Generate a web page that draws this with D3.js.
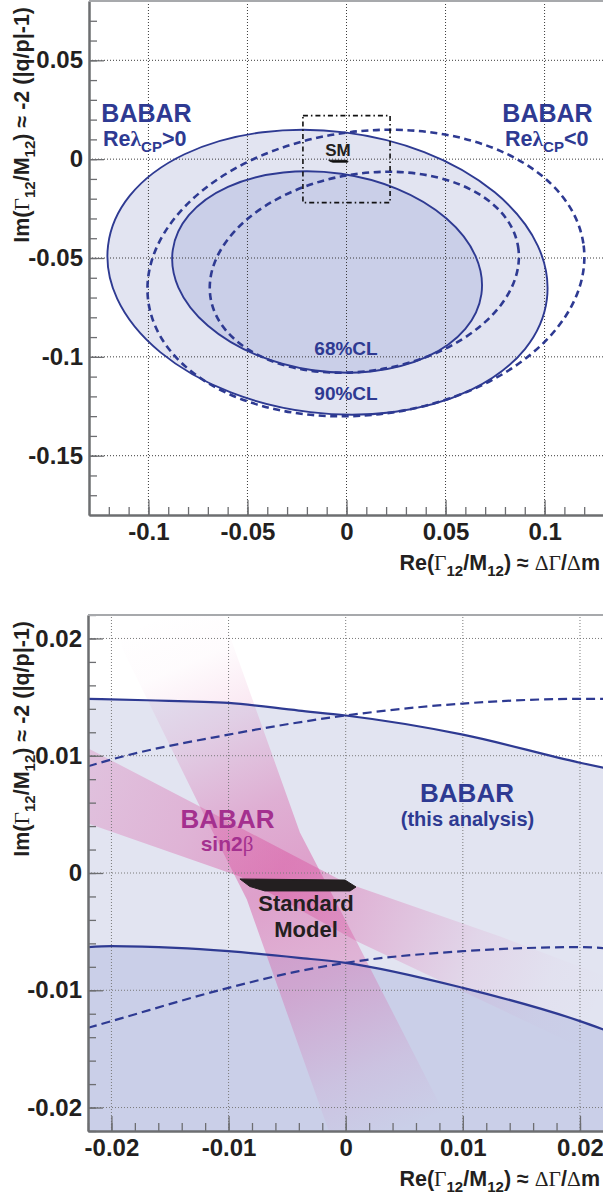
<!DOCTYPE html>
<html><head><meta charset="utf-8">
<script src="https://cdn.jsdelivr.net/npm/d3@7"></script>
<style>body{margin:0;background:#fff}svg{display:block}</style>
</head><body><svg id="c" width="603" height="1199"></svg>
<script>
// ---------------- DATA ----------------
// Top panel: confidence contours in (Re, Im) of Gamma12/M12, read off as ellipses
const contourNames = ["90%CL Re\u03bbCP>0","68%CL Re\u03bbCP>0","90%CL Re\u03bbCP<0","68%CL Re\u03bbCP<0"];
const contourCx    = [-0.0096, -0.0098, 0.0098, 0.0090];
const contourCy    = [-0.0572, -0.0571, -0.0576, -0.0572];
const contourA     = [0.1116, 0.0787, 0.1108, 0.0787];   // semi-major (along Re)
const contourB     = [0.0713, 0.0502, 0.0717, 0.0498];   // semi-minor
const contourTilt  = [-7.0, -8.2, 7.2, 9.6];              // degrees, counter-clockwise
const contourDashed= [false, false, true, true];
const smBox = [[-0.022,-0.022],[0.022,0.022]];
const smRegion = [[-0.00903,-0.00051],[-0.00006,-0.0006],[0.00088,-0.00119],[0.00037,-0.00153],[-0.0069,-0.00153],[-0.00818,-0.00115]];

// Bottom panel (zoom of the SM box): contour edges crossing the window
const zoomOuterSolid = [[-0.022,0.01485],[-0.017,0.01473],[-0.010,0.01450],[-0.004,0.01385],[0,0.01343],[0.010,0.0118],[0.020,0.0094],[0.022,0.00897]];
const zoomInnerSolid = [[-0.022,-0.00632],[-0.020,-0.00624],[-0.0145,-0.00638],[-0.010,-0.00667],[-0.004,-0.00723],[0,-0.00766],[0.010,-0.00979],[0.020,-0.01263],[0.022,-0.01334]];
const zoomOuterDashed = [[-0.022,0.0091],[-0.020,0.00968],[-0.010,0.0118],[0,0.01343],[0.010,0.01445],[0.020,0.01485],[0.022,0.01485]];
const zoomInnerDashed = [[-0.022,-0.0132],[-0.020,-0.01263],[-0.010,-0.00979],[-0.004,-0.00837],[0,-0.00766],[0.010,-0.00667],[0.020,-0.00632],[0.022,-0.0064]];
// sin2beta bands (two wedges)
const sin2bSteep = [[-0.0200,0.0223],[-0.01057,0.0223],[-0.00963,0.01948],[-0.00391,0.00345],[0.00088,-0.00575],[0.00934,-0.0223],[-0.00134,-0.0223],[-0.00391,-0.01505],[-0.00844,-0.00226],[-0.01245,0.00567],[-0.01900,0.01900]];
const sin2bShallow = [[-0.02228,0.01078],[-0.01245,0.00567],[0.0000,-0.00084],[0.01319,-0.00541],[0.02224,-0.00882],[0.02224,-0.01590],[0.00094,-0.00581],[-0.00903,-0.0003],[-0.02228,0.00431]];

// Ticks
const topXMajor = [-0.1,-0.05,0,0.05,0.1], topXLabels = ["-0.1","-0.05","0","0.05","0.1"];
const topYMajor = [0.05,0,-0.05,-0.1,-0.15], topYLabels = ["0.05","0","-0.05","-0.1","-0.15"];
const botMajor = [-0.02,-0.01,0,0.01,0.02], botXLabels = ["-0.02","-0.01","0","0.01","0.02"];
const botYLabels = ["-0.02","-0.01","0","0.01","0.02"];

// ---------------- STYLE ----------------
const blue="#2e3a92", light="#e2e4f1", dark="#cacfe8", pink="#d9509e", magenta="#a4308f", ink="#231f20";
const SANS="'Liberation Sans', Arial, Helvetica, sans-serif", SERIF="'Liberation Serif','DejaVu Serif',serif";

const svg = d3.select("#c");
const defs = svg.append("defs");

const xT = d3.scaleLinear([-0.13,0.13],[89,604]);
const yT = d3.scaleLinear([-0.18,0.08],[515,1]);
const xB = d3.scaleLinear([-0.022,0.022],[88,603.4]);
const yB = d3.scaleLinear([-0.022,0.022],[1131,615]);

function clip(id, xs, ys){
  defs.append("clipPath").attr("id",id).append("rect")
    .attr("x",xs.range()[0]).attr("y",ys.range()[1])
    .attr("width",xs.range()[1]-xs.range()[0]).attr("height",ys.range()[0]-ys.range()[1]);
}
clip("clipT",xT,yT); clip("clipB",xB,yB);

function rich(sel, parts, size){
  let cur=0;
  parts.forEach(p=>{
    const target = p.sub ? size*0.3 : 0;
    const ts = sel.append("tspan").text(p.t);
    if (target-cur) ts.attr("dy", target-cur);
    cur = target;
    if (p.sub) ts.attr("font-size", size*0.7);
    if (p.sym) ts.attr("font-family", SERIF).attr("font-weight", p.bold ? "bold" : "normal");
  });
}

function grid(g, xs, ys, xv, yv, color){
  g.selectAll(null).data(xv).join("line").attr("x1",d=>xs(d)).attr("x2",d=>xs(d))
    .attr("y1",ys.range()[0]).attr("y2",ys.range()[1]);
  g.selectAll(null).data(yv).join("line").attr("y1",d=>ys(d)).attr("y2",d=>ys(d))
    .attr("x1",xs.range()[0]).attr("x2",xs.range()[1]);
  g.selectAll("line").attr("stroke",color).attr("stroke-width",1).attr("stroke-dasharray","1,2");
}

function axes(xs, ys, xMaj, xLab, yMaj, yLab, minorX, minorY){
  const y0 = ys.range()[0], x0 = xs.range()[0];
  const style = g => { g.select(".domain").attr("stroke","#6d6e71").attr("stroke-width",2);
    g.selectAll(".tick line").attr("stroke","#6d6e71").attr("stroke-width",1.3);
    g.selectAll("text").attr("font-family",SANS).attr("font-weight","bold").attr("font-size",24).attr("fill",ink); };
  svg.append("g").attr("transform",`translate(0,${y0})`)
    .call(d3.axisBottom(xs).tickValues(minorX).tickSizeInner(-8).tickSizeOuter(0).tickFormat("")).call(style);
  svg.append("g").attr("transform",`translate(0,${y0})`)
    .call(d3.axisBottom(xs).tickValues(xMaj).tickSizeInner(-15).tickSizeOuter(0).tickPadding(8)
      .tickFormat((d,i)=>xLab[i])).call(style);
  svg.append("g").attr("transform",`translate(${x0},0)`)
    .call(d3.axisLeft(ys).tickValues(minorY).tickSizeInner(-8).tickSizeOuter(0).tickFormat("")).call(style);
  svg.append("g").attr("transform",`translate(${x0},0)`)
    .call(d3.axisLeft(ys).tickValues(yMaj).tickSizeInner(-15).tickSizeOuter(0).tickPadding(6)
      .tickFormat((d,i)=>yLab[i])).call(style);
  svg.append("line").attr("x1",x0).attr("x2",xs.range()[1]).attr("y1",ys.range()[1]).attr("y2",ys.range()[1])
    .attr("stroke","#a7a9ac").attr("stroke-width",2.2);
}

function titles(xs, ys){
  const xt = svg.append("text").attr("x",600).attr("y",ys.range()[0]+55).attr("text-anchor","end")
    .attr("font-family",SANS).attr("font-weight","bold").attr("font-size",21.5).attr("fill",ink);
  rich(xt,[{t:"Re("},{t:"Γ",sym:1},{t:"12",sub:1},{t:"/M"},{t:"12",sub:1},{t:") ≈ "},{t:"ΔΓ",sym:1},{t:"/"},{t:"Δ",sym:1},{t:"m"}],21.5);
  const yt = svg.append("text").attr("transform",`translate(29,${ys.range()[1]+6}) rotate(-90)`).attr("text-anchor","end")
    .attr("font-family",SANS).attr("font-weight","bold").attr("font-size",21.5).attr("fill",ink);
  rich(yt,[{t:"Im("},{t:"Γ",sym:1},{t:"12",sub:1},{t:"/M"},{t:"12",sub:1},{t:") ≈ -2 (|q/p|-1)"}],21.5);
}

function label(x,y,txt,size,color,anchor="middle"){
  return svg.append("text").attr("x",x).attr("y",y).attr("text-anchor",anchor)
    .attr("font-family",SANS).attr("font-weight","bold").attr("font-size",size).attr("fill",color).text(txt);
}

// ---------------- TOP PANEL ----------------
const gT = svg.append("g").attr("clip-path","url(#clipT)");
const idx = d3.range(contourNames.length);
function ellipse(g, i){
  const cx = xT(contourCx[i]), cy = yT(contourCy[i]);
  return g.append("ellipse").attr("cx",cx).attr("cy",cy)
    .attr("rx",xT(contourA[i])-xT(0)).attr("ry",yT(0)-yT(contourB[i]))
    .attr("transform",`rotate(${-contourTilt[i]},${cx},${cy})`);
}
ellipse(gT,0).attr("fill",light);
ellipse(gT,1).attr("fill",dark);
grid(gT.append("g"), xT, yT, topXMajor, topYMajor, "#3a3a3a");
idx.filter(i=>contourDashed[i]).forEach(i=>ellipse(gT,i).attr("fill","none")
  .attr("stroke",blue).attr("stroke-width",2.6).attr("stroke-dasharray","7,4.5"));
idx.filter(i=>!contourDashed[i]).forEach(i=>ellipse(gT,i).attr("fill","none")
  .attr("stroke",blue).attr("stroke-width",1.9));
gT.append("rect").attr("x",xT(smBox[0][0])).attr("y",yT(smBox[1][1]))
  .attr("width",xT(smBox[1][0])-xT(smBox[0][0])).attr("height",yT(smBox[0][1])-yT(smBox[1][1]))
  .attr("fill","none").attr("stroke","#111").attr("stroke-width",1.6).attr("stroke-dasharray","5,3,1.5,3");
gT.append("path").attr("d",d3.line().x(d=>xT(d[0])).y(d=>yT(d[1])).curve(d3.curveLinearClosed)(smRegion))
  .attr("fill","#111").attr("stroke","#111").attr("stroke-width",0.9);

label(338,156,"SM",17,ink);
label(146.5,122,"BABAR",25,blue);
label(547.5,122,"BABAR",25,blue);
rich(label(103,146,"",21.5,blue,"start"),[{t:"Re"},{t:"λ",sym:1,bold:1},{t:"CP",sub:1},{t:">0"}],21.5);
rich(label(505,146,"",21.5,blue,"start"),[{t:"Re"},{t:"λ",sym:1,bold:1},{t:"CP",sub:1},{t:"<0"}],21.5);
label(346,355,"68%CL",19,blue);
label(346,400,"90%CL",19,blue);

axes(xT, yT, topXMajor, topXLabels, topYMajor, topYLabels, d3.range(-12,13).map(d=>d/100), d3.range(-17,8).map(d=>d/100));
titles(xT, yT);

// ---------------- BOTTOM PANEL ----------------
const gB = svg.append("g").attr("clip-path","url(#clipB)");
const lineB = d3.line().x(d=>xB(d[0])).y(d=>yB(d[1])).curve(d3.curveMonotoneX);
const yBot = yB.domain()[0]-0.001;
function belowArea(c){ return d3.area().x(d=>xB(d[0])).y0(yB(yBot)).y1(d=>yB(d[1])).curve(d3.curveMonotoneX)(c); }
gB.append("path").attr("d",belowArea(zoomOuterSolid)).attr("fill",light);
gB.append("path").attr("d",belowArea(zoomInnerSolid)).attr("fill",dark);

function bandGrad(id, p0, p1, stops){
  const lg = defs.append("linearGradient").attr("id",id).attr("gradientUnits","userSpaceOnUse")
    .attr("x1",xB(p0[0])).attr("y1",yB(p0[1])).attr("x2",xB(p1[0])).attr("y2",yB(p1[1]));
  stops.forEach(s=>lg.append("stop").attr("offset",s[0]).attr("stop-color",pink).attr("stop-opacity",s[1]));
}
bandGrad("gA",[-0.0155,0.0223],[0.0040,-0.0223],[[0,0],[0.1,0.02],[0.22,0.14],[0.38,0.36],[0.52,0.46],[0.7,0.32],[0.88,0.1],[1,0]]);
bandGrad("gB",[-0.022,0.0076],[0.022,-0.0105],[[0,0.24],[0.2,0.33],[0.38,0.46],[0.55,0.3],[0.75,0.1],[0.9,0.02],[1,0]]);
const polyB = d3.line().x(d=>xB(d[0])).y(d=>yB(d[1])).curve(d3.curveLinearClosed);
gB.append("path").attr("d",polyB(sin2bSteep)).attr("fill","url(#gA)");
gB.append("path").attr("d",polyB(sin2bShallow)).attr("fill","url(#gB)");

grid(gB.append("g"), xB, yB, botMajor, botMajor, "#7a7a7a");
[zoomOuterDashed, zoomInnerDashed].forEach(c=>gB.append("path").attr("d",lineB(c)).attr("fill","none")
  .attr("stroke",blue).attr("stroke-width",2.2).attr("stroke-dasharray","9,5"));
[zoomOuterSolid, zoomInnerSolid].forEach(c=>gB.append("path").attr("d",lineB(c)).attr("fill","none")
  .attr("stroke",blue).attr("stroke-width",2.2));
gB.append("path").attr("d",d3.line().x(d=>xB(d[0])).y(d=>yB(d[1])).curve(d3.curveLinearClosed)(smRegion))
  .attr("fill",ink).attr("stroke",ink).attr("stroke-width",1).attr("stroke-linejoin","round");

label(227.5,828,"BABAR",26,magenta);
rich(label(227,851,"",21,magenta),[{t:"sin2"},{t:"β",sym:1}],21);
label(306,910.5,"Standard",22,ink);
label(306,936.5,"Model",22,ink);
label(467,801.5,"BABAR",26,blue);
label(467.5,826,"(this analysis)",20,blue);

axes(xB, yB, botMajor, botXLabels, botMajor, botYLabels, d3.range(-11,12).map(d=>d/500), d3.range(-11,12).map(d=>d/500));
titles(xB, yB);
</script></body></html>
